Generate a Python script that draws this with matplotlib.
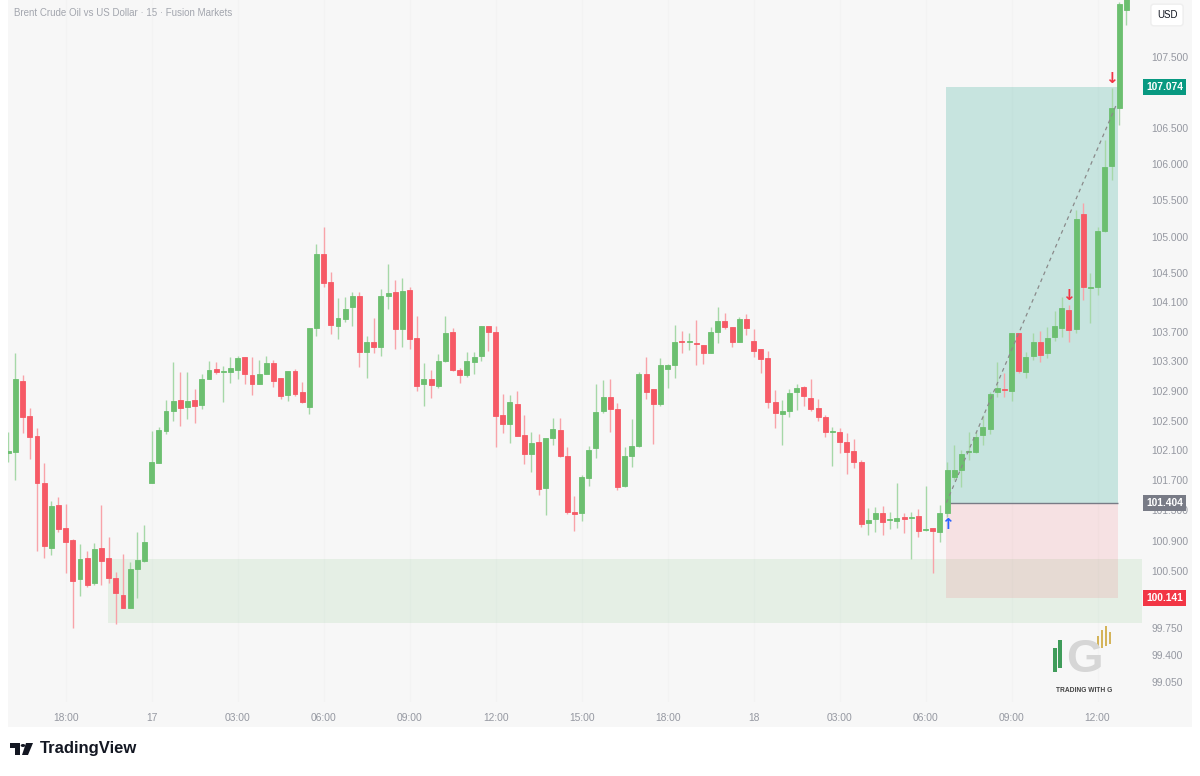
import matplotlib
matplotlib.use('Agg')
import matplotlib.pyplot as plt
import matplotlib.patches as mpatches
import matplotlib.transforms as mtransforms
from matplotlib.ticker import NullLocator, NullFormatter
import numpy as np

plt.rcParams['font.family'] = ['Liberation Sans', 'DejaVu Sans']

# 15 minute Brent candles
opens = [102.07, 102.08, 103.03, 102.56, 102.29, 101.67, 100.80, 101.37, 101.07, 100.91,
         100.40, 100.67, 100.34, 100.80, 100.67, 100.41, 100.18, 100.01, 100.53, 100.63,
         101.67, 101.93, 102.36, 102.63, 102.78, 102.68, 102.78, 102.71, 103.06, 103.20,
         103.15, 103.15, 103.18, 103.36, 103.11, 102.99, 103.13, 103.28, 103.07, 102.84,
         103.17, 102.88, 102.68, 103.75, 104.76, 104.38, 103.78, 103.87, 104.04, 104.19,
         103.43, 103.56, 103.49, 104.19, 104.24, 103.74, 104.27, 103.62, 102.99, 103.06,
         102.96, 103.30, 103.70, 103.18, 103.11, 103.29, 103.37, 103.78, 103.70, 102.58,
         102.45, 102.72, 102.31, 102.05, 102.21, 101.60, 102.27, 102.37, 102.03, 101.28,
         101.27, 101.73, 102.13, 102.63, 102.82, 102.66, 101.63, 102.03, 102.16, 103.13,
         102.92, 102.72, 103.20, 103.25, 103.57, 103.56, 103.55, 103.52, 103.41, 103.70,
         103.85, 103.76, 103.56, 103.87, 103.57, 103.47, 103.34, 102.75, 102.59, 102.63,
         102.88, 102.95, 102.80, 102.67, 102.55, 102.35, 102.35, 102.21, 102.09, 101.95,
         101.13, 101.19, 101.27, 101.17, 101.16, 101.21, 101.20, 101.23, 101.04, 101.07,
         101.01, 101.27, 101.75, 101.84, 102.08, 102.08, 102.31, 102.39, 102.88, 102.92,
         102.90, 103.68, 103.15, 103.37, 103.56, 103.41, 103.63, 103.75, 104.00, 103.74,
         105.31, 104.30, 104.31, 105.08, 105.97, 106.78, 108.16]
highs = [102.35, 103.41, 103.11, 102.67, 102.40, 101.93, 101.43, 101.48, 101.39, 100.92,
         100.86, 100.76, 100.87, 101.37, 100.95, 100.49, 100.72, 100.62, 101.01, 101.11,
         102.36, 102.41, 102.78, 103.29, 103.15, 103.15, 102.92, 103.13, 103.30, 103.29,
         103.24, 103.36, 103.37, 103.36, 103.36, 103.32, 103.37, 103.32, 103.07, 103.17,
         103.20, 103.02, 103.75, 104.90, 105.13, 104.51, 104.16, 104.17, 104.24, 104.24,
         103.64, 103.89, 104.28, 104.62, 104.41, 104.43, 104.31, 103.91, 103.28, 103.18,
         103.40, 103.91, 103.75, 103.21, 103.42, 103.42, 103.78, 103.78, 103.78, 102.86,
         102.84, 102.90, 102.58, 102.35, 102.32, 102.27, 102.53, 102.53, 102.15, 101.49,
         101.77, 102.16, 102.99, 103.05, 103.06, 102.74, 102.15, 102.52, 103.15, 103.36,
         102.92, 103.34, 103.26, 103.79, 103.71, 103.68, 103.86, 103.52, 103.76, 104.04,
         103.96, 103.76, 103.90, 103.94, 103.74, 103.47, 103.44, 102.91, 102.78, 102.92,
         102.99, 102.97, 103.06, 102.79, 102.58, 102.41, 102.40, 102.33, 102.25, 101.97,
         101.33, 101.35, 101.36, 101.28, 101.67, 101.27, 101.28, 101.32, 101.63, 101.07,
         101.37, 101.95, 102.17, 102.11, 102.35, 102.35, 102.58, 102.88, 103.29, 103.14,
         103.68, 103.68, 103.42, 103.68, 103.71, 103.76, 103.98, 104.17, 104.06, 105.37,
         105.46, 104.50, 105.13, 106.34, 107.06, 108.28, 108.50]
lows = [101.95, 101.71, 102.33, 101.99, 100.76, 100.67, 100.71, 101.01, 100.47, 99.75,
        100.17, 100.29, 100.32, 100.32, 100.34, 99.80, 100.01, 100.01, 100.15, 100.62,
        101.67, 101.93, 102.32, 102.49, 102.43, 102.52, 102.47, 102.66, 103.06, 103.13,
        102.75, 103.01, 103.06, 102.99, 102.84, 102.99, 103.13, 102.95, 102.79, 102.76,
        102.83, 102.74, 102.59, 103.64, 104.31, 103.67, 103.60, 103.83, 103.78, 103.22,
        103.07, 103.41, 103.37, 104.01, 103.47, 103.49, 103.47, 102.90, 102.70, 102.80,
        102.94, 103.29, 103.17, 103.01, 103.09, 103.13, 103.30, 103.44, 102.15, 102.33,
        102.20, 102.29, 101.92, 101.81, 101.51, 101.24, 102.17, 102.01, 101.25, 101.03,
        101.16, 101.63, 102.00, 102.60, 102.35, 101.57, 101.61, 101.88, 102.15, 102.79,
        102.19, 102.70, 102.94, 103.07, 103.41, 103.45, 103.25, 103.26, 103.41, 103.55,
        103.74, 103.49, 103.56, 103.66, 103.36, 103.14, 102.67, 102.40, 102.17, 102.55,
        102.64, 102.70, 102.63, 102.49, 102.28, 101.89, 102.07, 101.79, 101.87, 101.08,
        100.98, 101.01, 100.98, 101.05, 101.07, 101.00, 100.66, 100.95, 101.03, 100.47,
        100.88, 101.21, 101.71, 101.61, 101.97, 102.07, 102.17, 102.32, 102.82, 102.82,
        102.76, 103.14, 103.07, 103.32, 103.29, 103.34, 103.57, 103.63, 103.56, 103.68,
        104.13, 103.82, 104.20, 105.06, 105.78, 106.54, 107.95]
closes = [102.09, 103.06, 102.55, 102.28, 101.67, 100.83, 101.36, 101.05, 100.88, 100.37,
          100.66, 100.32, 100.79, 100.63, 100.41, 100.21, 100.01, 100.53, 100.65, 100.88,
          101.95, 102.37, 102.63, 102.76, 102.67, 102.76, 102.70, 103.06, 103.18, 103.15,
          103.17, 103.21, 103.34, 103.13, 102.99, 103.13, 103.28, 103.03, 102.83, 103.17,
          102.86, 102.75, 103.75, 104.76, 104.36, 103.79, 103.89, 104.01, 104.19, 103.43,
          103.56, 103.49, 104.19, 104.23, 103.74, 104.25, 103.60, 102.96, 103.06, 102.98,
          103.30, 103.68, 103.18, 103.11, 103.30, 103.36, 103.78, 103.70, 102.56, 102.45,
          102.75, 102.29, 102.05, 102.20, 101.59, 102.27, 102.39, 102.03, 101.28, 101.25,
          101.75, 102.11, 102.62, 102.82, 102.66, 101.61, 102.03, 102.16, 103.13, 102.88,
          102.72, 103.25, 103.25, 103.56, 103.56, 103.57, 103.53, 103.41, 103.70, 103.85,
          103.76, 103.56, 103.87, 103.75, 103.44, 103.33, 102.75, 102.60, 102.63, 102.87,
          102.94, 102.83, 102.66, 102.55, 102.35, 102.36, 102.21, 102.08, 101.95, 101.12,
          101.17, 101.27, 101.15, 101.19, 101.20, 101.19, 101.21, 101.03, 101.05, 101.03,
          101.27, 101.84, 101.84, 102.05, 102.09, 102.28, 102.41, 102.86, 102.94, 102.91,
          103.68, 103.17, 103.36, 103.56, 103.38, 103.62, 103.78, 104.02, 103.72, 105.24,
          104.31, 104.31, 105.08, 105.96, 106.78, 108.25, 108.40]

price_ticks = [107.5, 106.5, 106.0, 105.5, 105.0, 104.5, 104.1, 103.7, 103.3,
               102.9, 102.5, 102.1, 101.7, 101.3, 100.9, 100.5, 99.75, 99.4, 99.05]
time_pos = [8, 20, 32, 44, 56, 68, 80, 92, 104, 116, 128, 140, 152]
time_labels = ['18:00', '17', '03:00', '06:00', '09:00', '12:00', '15:00',
               '18:00', '18', '03:00', '06:00', '09:00', '12:00']

zone_low, zone_high = 99.82, 100.66
entry_price, tp_price, sl_price = 101.404, 107.074, 100.141
pos_start, pos_end = 130.9, 154.9
trend_end = 106.85

GREEN = '#6cbf70'
RED = '#f65a66'
GREEN_WICK = '#a6d8a8'
RED_WICK = '#f8a3a9'
AXIS_TXT = '#9598a1'

W, H = 1200, 776
fig = plt.figure(figsize=(12, 7.76), dpi=100, facecolor='white')


def fx(px):
    return px / W


def fy(py):
    return 1 - py / H


# light grey panel behind chart + price axis + time axis
fig.patches.append(mpatches.Rectangle((fx(8), fy(727)), fx(1192) - fx(8), fy(0) - fy(727),
                                      transform=fig.transFigure, facecolor='#f7f7f7',
                                      edgecolor='none', zorder=-10))

ax = fig.add_axes([fx(8), fy(702), fx(1142) - fx(8), 702 / H])
ax.set_facecolor('#f7f7f7')
for s in ax.spines.values():
    s.set_visible(False)

ax.set_yscale('log')
ax.set_ylim(98.79, 108.306)
ax.set_xlim(-0.04, 158.2)

# very faint vertical grid
for t in time_pos:
    ax.axvline(t, color='#f3f3f3', lw=0.8, zorder=0)

# candles
x = np.arange(len(opens))
o = np.array(opens)
h = np.array(highs)
l = np.array(lows)
c = np.array(closes)
up = c >= o
body_col = np.where(up, GREEN, RED)
wick_col = np.where(up, GREEN_WICK, RED_WICK)
ax.vlines(x, l, h, colors=wick_col, lw=1.0, zorder=3)
ax.bar(x, np.abs(c - o), bottom=np.minimum(o, c), width=0.68, color=body_col,
       edgecolor=body_col, linewidth=0.6, zorder=4)

# demand zone
ax.add_patch(mpatches.Rectangle((13.9, zone_low), 160 - 13.9, zone_high - zone_low,
                                facecolor='#4caf50', alpha=0.1, lw=0, zorder=1))

# long position tool
ax.add_patch(mpatches.Rectangle((pos_start, entry_price), pos_end - pos_start,
                                tp_price - entry_price, facecolor='#089981', alpha=0.2,
                                lw=0, zorder=1))
ax.add_patch(mpatches.Rectangle((pos_start, sl_price), pos_end - pos_start,
                                entry_price - sl_price, facecolor='#f23645', alpha=0.11,
                                lw=0, zorder=1))
ax.hlines(entry_price, pos_start, pos_end, color='#787b86', lw=1.0, zorder=2)
ax.plot([pos_start, 154.7], [entry_price, trend_end], color='#8a8a8a', lw=0.9,
        ls=(0, (3, 3)), zorder=5)

# signal arrows
ax.text(131, 101.11, '↑', color='#2962ff', fontsize=11, fontweight='bold',
        ha='center', va='center', zorder=6, family='DejaVu Sans')
ax.text(148, 104.19, '↓', color='#f23645', fontsize=11, fontweight='bold',
        ha='center', va='center', zorder=6, family='DejaVu Sans')
ax.text(154, 107.20, '↓', color='#f23645', fontsize=11, fontweight='bold',
        ha='center', va='center', zorder=6, family='DejaVu Sans')

# axes ticks
ax.yaxis.tick_right()
ax.set_yticks(price_ticks)
ax.set_yticklabels([f'{p:.3f}' for p in price_ticks])
ax.yaxis.set_minor_locator(NullLocator())
ax.yaxis.set_minor_formatter(NullFormatter())
ax.tick_params(axis='y', length=0, pad=7, labelsize=7.4, labelcolor=AXIS_TXT)
ax.set_xticks(time_pos)
ax.set_xticklabels(time_labels)
ax.tick_params(axis='x', length=0, pad=8, labelsize=7.4, labelcolor=AXIS_TXT)

# price labels on the axis
trans = mtransforms.blended_transform_factory(ax.transAxes, ax.transData)
xl = (1146 - 8) / (1142 - 8)
for price, bg in [(tp_price, '#089981'), (entry_price, '#787b86'), (sl_price, '#f23645')]:
    ax.text(xl, price, f'{price:.3f}', transform=trans, ha='left', va='center',
            fontsize=7.4, color='white', fontweight='bold', clip_on=False, zorder=10,
            bbox=dict(boxstyle='square,pad=0.3', fc=bg, ec='none'))

# title and currency box
fig.text(fx(14), fy(13), 'Brent Crude Oil vs US Dollar · 15 · Fusion Markets',
         fontsize=7, color='#a3a6ae', va='center')
fig.text(fx(1167), fy(15), 'USD', ha='center', va='center', fontsize=7, color='#131722',
         bbox=dict(boxstyle='round,pad=0.6,rounding_size=0.3', fc='white', ec='#eeeeee'))

# watermark logo
fig.text(fx(1084), fy(660), 'G', fontsize=34, fontweight='bold', color='#d6d6d6',
         ha='center', va='center')
for x0, y0, y1 in [(1053, 648, 672), (1058, 640, 668)]:
    fig.patches.append(mpatches.Rectangle((fx(x0), fy(y1)), fx(4), y1 / H - y0 / H,
                                          transform=fig.transFigure, facecolor='#3f9c5a',
                                          edgecolor='none'))
for x0, y0, y1 in [(1097, 636, 648), (1101, 630, 648), (1105, 626, 646), (1109, 632, 644)]:
    fig.patches.append(mpatches.Rectangle((fx(x0), fy(y1)), fx(1.5), y1 / H - y0 / H,
                                          transform=fig.transFigure, facecolor='#d4b45a',
                                          edgecolor='none'))
fig.text(fx(1084), fy(690), 'TRADING WITH G', fontsize=4.8, fontweight='bold',
         color='#444444', ha='center', va='center')

# TradingView footer logo
for poly in [[(10, 743), (20, 743), (20, 755), (15, 755), (15, 748), (10, 748)],
             [(26, 743), (33, 743), (28, 755), (22, 755)]]:
    fig.patches.append(mpatches.Polygon([(fx(a), fy(b)) for a, b in poly],
                                        transform=fig.transFigure, facecolor='#131722',
                                        edgecolor='none'))
fig.patches.append(mpatches.Circle((fx(23), fy(745.5)), 2.3 / W, transform=fig.transFigure,
                                   facecolor='#131722', edgecolor='none'))
fig.text(fx(40), fy(749), 'TradingView', fontsize=12, fontweight='bold', color='#131722',
         va='center')

fig.savefig('out.png', dpi=100, facecolor='white')
